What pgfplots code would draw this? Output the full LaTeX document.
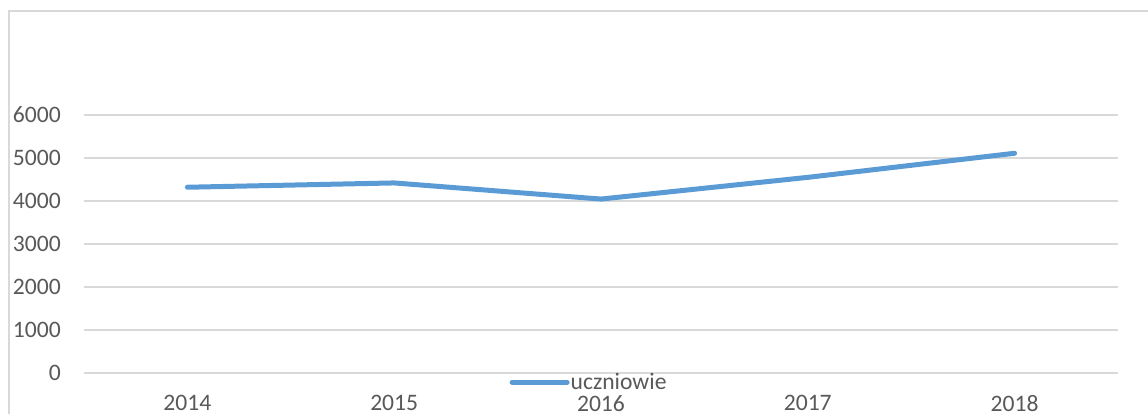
\documentclass[border=0pt]{standalone}
\usepackage{pgfplots}
\pgfplotsset{compat=1.18}
\usepackage{fontspec}
\setmainfont{Carlito}
\definecolor{lineblue}{HTML}{5B9BD5}
\definecolor{gridgray}{HTML}{D9D9D9}
\definecolor{txtgray}{HTML}{595959}
\begin{document}
\begin{tikzpicture}
\useasboundingbox (0,0) rectangle (1148bp,414bp);
\draw[gridgray, line width=1.5bp] (9bp,-20bp) rectangle (1170bp,403bp);
\begin{axis}[
  at={(84bp,41bp)}, anchor=south west,
  scale only axis, width=1034bp, height=258bp,
  xmin=-0.5, xmax=4.5, ymin=0, ymax=6000,
  xtick={0,1,2,3,4}, xticklabels={2014,2015,2016,2017,2018},
  ytick={0,1000,2000,3000,4000,5000,6000},
  axis line style={draw=none},
  major tick length=0pt,
  ymajorgrids, grid style={gridgray, line width=1.5bp},
  /pgf/number format/assume math mode=true,
  /pgf/number format/set thousands separator={},
  tick label style={font=\fontsize{23.6bp}{28bp}\selectfont, text=txtgray, inner sep=0pt},
  xticklabel style={anchor=north, yshift=-22bp},
  yticklabel style={anchor=east, xshift=-23bp},
  legend style={at={(0.488,-0.035)}, anchor=center, draw=none, fill=none,
    font=\fontsize{23.6bp}{28bp}\selectfont, text=txtgray, inner sep=0pt,
    nodes={inner sep=1bp}},
  legend image code/.code={\draw[#1, line width=5bp, line cap=round] (0bp,0bp) -- (55bp,0bp);},
  clip=false,
]
\addplot[lineblue, line width=5bp, line cap=round, line join=round] coordinates {
  (0,4320) (1,4420) (2,4045) (3,4550) (4,5110)
};
\addlegendentry{uczniowie}
\end{axis}
\end{tikzpicture}
\end{document}
